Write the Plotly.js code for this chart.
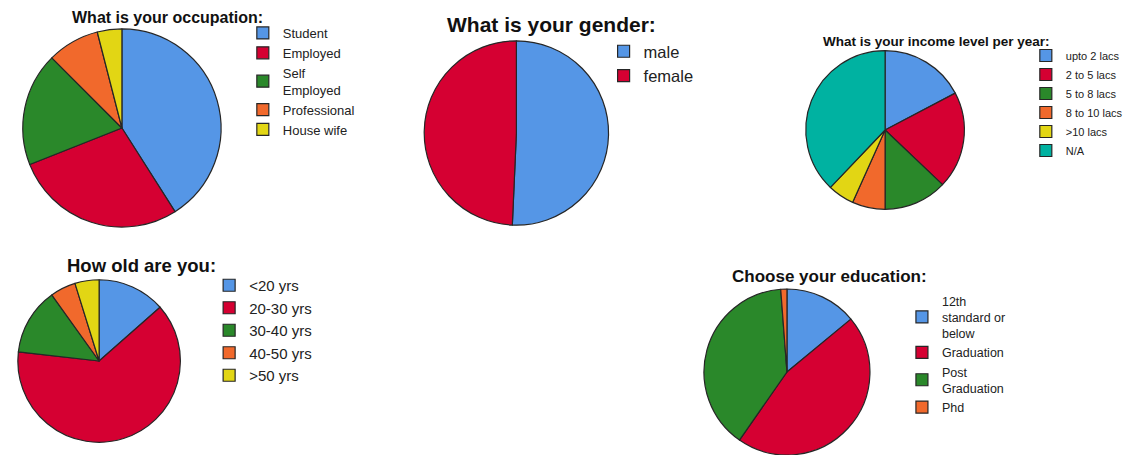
<!DOCTYPE html>
<html>
<head>
<meta charset="utf-8">
<script src="https://cdn.plot.ly/plotly-3.0.1.min.js"></script>
<style>html,body{margin:0;padding:0;background:#fff;}#chart{width:1128px;height:455px;}</style>
</head>
<body>
<div id="chart"></div>
<script>
// ---- data ----
const occupationLabels = ["Student", "Employed", "Self<br>Employed", "Professional", "House wife"];
const occupationValues = [41, 28, 18.5, 8.5, 4];
const genderLabels = ["male", "female"];
const genderValues = [50.7, 49.3];
const incomeLabels = ["upto 2 lacs", "2 to 5 lacs", "5 to 8 lacs", "8 to 10 lacs", ">10 lacs", "N/A"];
const incomeValues = [17.3, 19.8, 12.9, 6.7, 5.4, 37.9];
const ageLabels = ["<20 yrs", "20-30 yrs", "30-40 yrs", "40-50 yrs", ">50 yrs"];
const ageValues = [13.5, 63.3, 13.3, 5.1, 4.8];
const educationLabels = ["12th<br>standard or<br>below", "Graduation", "Post<br>Graduation", "Phd"];
const educationValues = [14.0, 45.7, 39.1, 1.2];

const titles = ["What is your occupation:", "What is your gender:", "What is your income level per year:", "How old are you:", "Choose your education:"];

// ---- style ----
const W = 1128, H = 455;
const palette = ["#5596E6", "#D50032", "#2A882A", "#F1692C", "#E2D614", "#00B2A1"];
const FONT = "Liberation Sans, Arial, sans-serif";

function dom(cx, cy, d) {
  return {x: [(cx - d/2)/W, (cx + d/2)/W], y: [1 - (cy + d/2)/H, 1 - (cy - d/2)/H]};
}
function pie(labels, values, domain, legendId) {
  return {
    type: "pie", labels: labels, values: values, domain: domain,
    sort: false, direction: "clockwise", rotation: 0,
    textinfo: "none", hoverinfo: "label+percent",
    marker: {colors: palette.slice(0, labels.length), line: {color: "#262626", width: 1.2}},
    legend: legendId, showlegend: true
  };
}

const data = [
  pie(occupationLabels, occupationValues, dom(123, 128, 200), "legend"),
  pie(genderLabels, genderValues, dom(521, 133, 186), "legend2"),
  pie(incomeLabels, incomeValues, dom(893, 130, 160), "legend3"),
  pie(ageLabels, ageValues, dom(100, 361, 164), "legend4"),
  pie(educationLabels, educationValues, dom(794, 373, 168), "legend5")
];

function leg(px, py, size) {
  return {x: px / W, y: 1 - py / H, xanchor: "left", yanchor: "top",
    bgcolor: "rgba(0,0,0,0)", borderwidth: 0, traceorder: "normal",
    font: {family: FONT, size: size, color: "#222"}};
}
function title(text, cx, cy, size) {
  return {text: "<b>" + text + "</b>", x: cx / W, y: 1 - cy / H, xref: "paper", yref: "paper",
    xanchor: "center", yanchor: "middle", showarrow: false,
    font: {family: FONT, size: size, color: "#111"}};
}

const layout = {
  width: W, height: H, margin: {l: 0, r: 0, t: 0, b: 0},
  paper_bgcolor: "#fff", plot_bgcolor: "#fff",
  showlegend: true,
  legend: leg(245, 18, 13),
  legend2: leg(609, 34, 16.5),
  legend3: leg(1035, 41, 11),
  legend4: leg(211, 269, 15),
  legend5: leg(910, 286, 12.5),
  annotations: [
    title(titles[0], 168.5, 18, 16),
    title(titles[1], 556, 24, 21),
    title(titles[2], 945, 41, 13.5),
    title(titles[3], 142.5, 265, 18.5),
    title(titles[4], 837, 276, 17)
  ]
};

Plotly.newPlot("chart", data, layout, {displayModeBar: false, staticPlot: true});
</script>
</body>
</html>
